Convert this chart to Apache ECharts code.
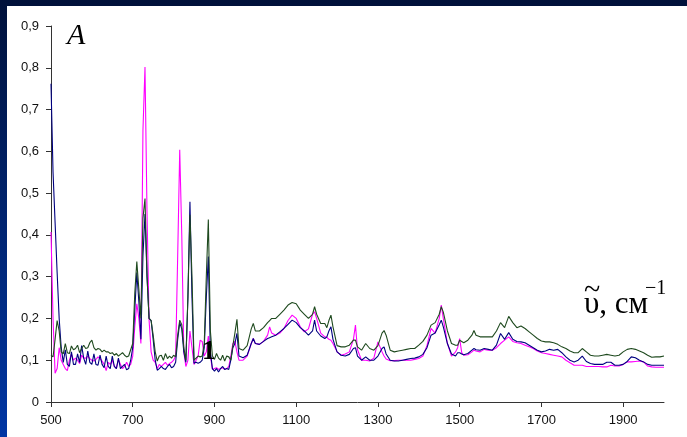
<!DOCTYPE html>
<html>
<head>
<meta charset="utf-8">
<script src="https://cdn.jsdelivr.net/npm/echarts@6/dist/echarts.min.js"></script>
<style>
html,body{margin:0;padding:0;background:#001238;}
#c{width:687px;height:437px;}
</style>
</head>
<body>
<div id="c"></div>
<script>
// wavenumbers, cm^-1
const wavenumbers = [
  500,505,510,515,520,525,530,535,540,545,
  550,555,560,565,570,575,580,585,590,595,
  600,605,610,615,620,625,630,635,640,645,
  650,655,660,665,670,675,680,685,690,695,
  700,705,710,715,720,725,730,735,740,745,
  750,755,760,765,770,775,780,785,790,795,
  800,805,810,815,820,825,830,835,840,845,
  850,855,860,865,870,875,880,885,890,895,
  900,905,910,915,920,925,930,935,940,945,
  950,955,960,970,980,990,995,1000,1010,1020,
  1030,1035,1040,1050,1060,1070,1080,1090,1100,1110,
  1120,1130,1140,1145,1150,1160,1170,1175,1180,1185,
  1190,1200,1210,1220,1230,1240,1245,1250,1260,1270,
  1280,1290,1300,1310,1315,1320,1330,1340,1350,1360,
  1370,1380,1390,1400,1410,1420,1430,1440,1450,1455,
  1460,1470,1480,1490,1495,1500,1505,1510,1520,1530,
  1535,1540,1550,1560,1570,1580,1590,1600,1610,1620,
  1630,1640,1650,1660,1670,1680,1690,1700,1710,1720,
  1730,1740,1750,1760,1770,1780,1790,1800,1810,1820,
  1830,1840,1850,1860,1870,1880,1890,1900,1910,1920,
  1930,1940,1950,1960,1970,1980,1990,2000
];

const greenSeries = [
  0.112,0.108,0.150,0.195,0.170,0.120,0.115,0.140,0.118,0.116,
  0.134,0.125,0.128,0.136,0.118,0.128,0.136,0.128,0.130,0.142,
  0.148,0.130,0.124,0.128,0.126,0.120,0.124,0.120,0.120,0.116,
  0.118,0.112,0.116,0.110,0.114,0.118,0.112,0.108,0.110,0.125,
  0.140,0.260,0.336,0.270,0.200,0.440,0.487,0.300,0.200,0.195,
  0.160,0.120,0.098,0.110,0.112,0.100,0.116,0.104,0.110,0.105,
  0.112,0.108,0.160,0.196,0.185,0.130,0.100,0.250,0.448,0.300,
  0.100,0.105,0.110,0.108,0.110,0.140,0.300,0.437,0.170,0.110,
  0.102,0.116,0.105,0.100,0.112,0.098,0.110,0.108,0.100,0.135,
  0.165,0.198,0.128,0.124,0.135,0.175,0.188,0.170,0.170,0.178,
  0.190,0.195,0.200,0.200,0.210,0.220,0.232,0.238,0.235,0.220,
  0.210,0.200,0.210,0.228,0.210,0.188,0.188,0.178,0.195,0.208,
  0.180,0.135,0.132,0.132,0.136,0.148,0.148,0.132,0.124,0.140,
  0.128,0.124,0.135,0.165,0.171,0.160,0.124,0.120,0.122,0.124,
  0.126,0.128,0.128,0.136,0.145,0.160,0.184,0.190,0.210,0.228,
  0.215,0.170,0.140,0.136,0.136,0.148,0.145,0.142,0.148,0.160,
  0.171,0.160,0.156,0.156,0.156,0.156,0.170,0.190,0.178,0.205,
  0.190,0.178,0.182,0.176,0.168,0.160,0.152,0.146,0.144,0.144,
  0.142,0.138,0.132,0.128,0.122,0.118,0.118,0.128,0.120,0.112,
  0.110,0.110,0.112,0.114,0.112,0.110,0.112,0.120,0.126,0.128,
  0.126,0.122,0.118,0.112,0.107,0.108,0.108,0.110
];

const blueSeries = [
  0.762,0.550,0.430,0.310,0.200,0.130,0.095,0.125,0.090,0.085,
  0.120,0.090,0.090,0.115,0.095,0.135,0.105,0.090,0.122,0.095,
  0.090,0.115,0.090,0.088,0.112,0.090,0.082,0.110,0.085,0.080,
  0.110,0.085,0.080,0.105,0.080,0.085,0.090,0.077,0.080,0.100,
  0.130,0.220,0.310,0.240,0.150,0.350,0.450,0.300,0.200,0.195,
  0.150,0.100,0.076,0.080,0.085,0.080,0.078,0.085,0.090,0.082,
  0.085,0.095,0.150,0.190,0.175,0.120,0.095,0.250,0.479,0.250,
  0.093,0.095,0.093,0.095,0.100,0.130,0.250,0.348,0.120,0.080,
  0.074,0.080,0.072,0.080,0.085,0.078,0.080,0.078,0.100,0.130,
  0.140,0.164,0.110,0.106,0.112,0.140,0.152,0.140,0.138,0.145,
  0.152,0.154,0.156,0.160,0.168,0.176,0.186,0.196,0.190,0.178,
  0.170,0.160,0.170,0.196,0.170,0.158,0.152,0.156,0.170,0.180,
  0.150,0.120,0.112,0.110,0.114,0.128,0.130,0.110,0.100,0.108,
  0.100,0.100,0.110,0.128,0.132,0.115,0.100,0.098,0.098,0.100,
  0.102,0.104,0.105,0.108,0.114,0.130,0.160,0.165,0.185,0.196,
  0.180,0.140,0.115,0.110,0.118,0.118,0.115,0.113,0.116,0.124,
  0.128,0.125,0.124,0.128,0.126,0.124,0.136,0.164,0.150,0.166,
  0.150,0.145,0.144,0.142,0.136,0.130,0.124,0.120,0.122,0.126,
  0.124,0.126,0.118,0.108,0.100,0.096,0.100,0.110,0.097,0.092,
  0.090,0.090,0.090,0.095,0.095,0.088,0.088,0.090,0.097,0.108,
  0.106,0.100,0.096,0.090,0.088,0.088,0.088,0.088
];

const magentaSeries = [
  0.407,0.200,0.069,0.080,0.130,0.100,0.090,0.080,0.075,0.100,
  0.115,0.100,0.105,0.100,0.092,0.112,0.105,0.105,0.110,0.104,
  0.100,0.098,0.102,0.108,0.104,0.098,0.090,0.075,0.095,0.090,
  0.100,0.085,0.080,0.102,0.090,0.080,0.085,0.095,0.085,0.090,
  0.110,0.180,0.235,0.200,0.140,0.650,0.802,0.450,0.196,0.120,
  0.100,0.095,0.080,0.090,0.085,0.090,0.095,0.088,0.092,0.095,
  0.100,0.110,0.350,0.604,0.400,0.120,0.085,0.100,0.170,0.130,
  0.090,0.100,0.110,0.148,0.145,0.110,0.120,0.158,0.110,0.078,
  0.080,0.082,0.078,0.080,0.082,0.078,0.080,0.085,0.110,0.140,
  0.145,0.120,0.100,0.100,0.110,0.140,0.152,0.140,0.138,0.145,
  0.160,0.180,0.165,0.160,0.165,0.176,0.195,0.208,0.200,0.180,
  0.168,0.175,0.210,0.216,0.200,0.165,0.156,0.155,0.150,0.148,
  0.140,0.120,0.112,0.115,0.120,0.150,0.184,0.125,0.100,0.100,
  0.098,0.105,0.144,0.120,0.110,0.103,0.099,0.099,0.100,0.100,
  0.100,0.100,0.102,0.104,0.110,0.135,0.176,0.165,0.200,0.232,
  0.200,0.140,0.110,0.120,0.130,0.152,0.118,0.112,0.113,0.120,
  0.124,0.122,0.120,0.126,0.124,0.124,0.130,0.140,0.148,0.156,
  0.145,0.142,0.140,0.136,0.132,0.128,0.122,0.118,0.116,0.114,
  0.112,0.110,0.108,0.100,0.094,0.088,0.088,0.088,0.085,0.085,
  0.085,0.085,0.084,0.084,0.088,0.086,0.086,0.090,0.096,0.096,
  0.097,0.098,0.096,0.086,0.084,0.083,0.083,0.083
];

const xTickValues = [500,700,900,1100,1300,1500,1700,1900];

const pairs = ys => wavenumbers.map((x, i) => [x, ys[i]]);

const chart = echarts.init(document.getElementById('c'), null, {renderer: 'canvas'});
const labelFont = {color: '#111', fontSize: 13, fontFamily: '"Liberation Sans", Arial, sans-serif'};
const lineSeries = (name, data, color) => ({
  name, type: 'line', data: pairs(data), showSymbol: false, symbol: 'none',
  lineStyle: {color, width: 1.1}, itemStyle: {color}, animation: false, z: 3
});
const serif = '"Liberation Serif", "Times New Roman", serif';

chart.setOption({
  animation: false,
  backgroundColor: {type: 'linear', x: 0, y: 0, x2: 0, y2: 1,
    colorStops: [{offset: 0, color: '#00113a'}, {offset: 1, color: '#0036a4'}]},
  grid: {left: 51, right: 23, top: 26, bottom: 35, containLabel: false, outerBoundsMode: 'none'},
  xAxis: {
    type: 'value', min: 500, max: 2000,
    axisLine: {show: true, lineStyle: {color: '#333', width: 1}},
    axisTick: {show: true, length: 5, inside: false, customValues: xTickValues, lineStyle: {color: '#333'}},
    axisLabel: Object.assign({margin: 12, customValues: xTickValues, formatter: v => String(v)}, labelFont),
    splitLine: {show: false}
  },
  yAxis: {
    type: 'value', min: 0, max: 0.9, interval: 0.1,
    axisLine: {show: true, lineStyle: {color: '#333', width: 1}},
    axisTick: {show: true, length: 5, inside: false, lineStyle: {color: '#333'}},
    axisLabel: Object.assign({margin: 12, formatter: v => {
      const r = Math.round(v * 10) / 10;
      return r === 0 ? '0' : r.toFixed(1).replace('.', ',');
    }}, labelFont),
    splitLine: {show: false}
  },
  graphic: [
    {type: 'rect', z: -10, silent: true, shape: {x: 7, y: 6, width: 680, height: 431}, style: {fill: '#ffffff'}},
    {type: 'text', z: 10, silent: true, style: {x: 67, y: 21, text: 'A', textVerticalAlign: 'top',
      font: 'italic 30px ' + serif, fill: '#000'}},
    {type: 'text', z: 10, silent: true, style: {x: 584, y: 289, text: 'υ, см', textVerticalAlign: 'top',
      font: '31px ' + serif, fill: '#000'}},
    {type: 'text', z: 10, silent: true, style: {x: 584, y: 276, text: '~', textVerticalAlign: 'top',
      font: '30px ' + serif, fill: '#000'}},
    {type: 'text', z: 10, silent: true, style: {x: 645, y: 279, text: '−1', textVerticalAlign: 'top',
      font: '20px ' + serif, fill: '#000'}},
    {type: 'text', z: 10, silent: true, style: {x: 202, y: 339, text: '1', textVerticalAlign: 'top',
      font: 'bold 27px ' + serif, fill: '#000'}}
  ],
  series: [
    lineSeries('Образец 3', magentaSeries, '#ff00ff'),
    lineSeries('Образец 2', blueSeries, '#000080'),
    lineSeries('Образец 1', greenSeries, '#1f4a1f')
  ]
});
</script>
</body>
</html>
